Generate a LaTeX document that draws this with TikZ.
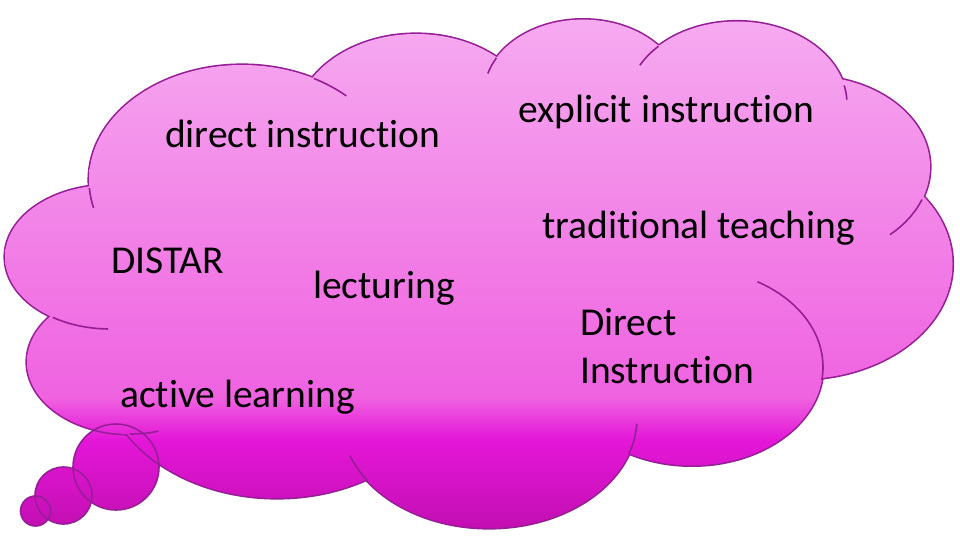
\documentclass[tikz,border=0pt]{standalone}
\usepackage{fontspec}
\setmainfont{Carlito}[Ligatures={NoCommon,NoContextual}]
\definecolor{gT}{RGB}{246,170,240}
\definecolor{gA}{RGB}{239,98,224}
\definecolor{gB}{RGB}{228,22,216}
\definecolor{gC}{RGB}{195,15,178}
\definecolor{edge}{RGB}{150,30,150}
\pgfdeclareverticalshading{cloudgrad}{100bp}{color(0bp)=(gC); color(25.2bp)=(gC); color(33.8bp)=(gB); color(38bp)=(gA); color(75bp)=(gT); color(100bp)=(gT)}
\tikzset{
  lbl/.style={anchor=base west, inner sep=0pt, font=\fontsize{39.5}{48}\selectfont, text=black},
  lobeline/.style={draw=edge, line width=3.2pt},
  thinline/.style={draw=edge, line width=1.6pt},
  gradfill/.style={shading=cloudgrad},
}
\begin{document}
\begin{tikzpicture}[x=1pt,y=-1pt]
\useasboundingbox (0,0) rectangle (960,540);
\fill[white] (0,0) rectangle (960,540);
% bubble fills
\foreach \cx/\cy/\r in {116/467/43, 63.5/495.5/28.5, 35.5/511/15}{
  \begin{scope}
    \clip (\cx,\cy) circle [radius=\r];
    \shade[gradfill] (0,20) rectangle (960,530);
  \end{scope}
}
% cloud lobe outlines (outer half stays visible)
\foreach \cx/\cy/\rx/\ry in {242/180/153/115, 416/125/121/91, 583/94/99/74.4, 737/104/110/82.5, 809/167/121/91, 799/264/153.5/115.3, 692/367/131/98.4, 489/418/148/110, 277/366/175/132, 130/362/103/72, 110/257/105/72}{
  \draw[lobeline] (\cx,\cy) ellipse [x radius=\rx, y radius=\ry];
}
% cloud fill
\foreach \cx/\cy/\rx/\ry in {242/180/153/115, 416/125/121/91, 583/94/99/74.4, 737/104/110/82.5, 809/167/121/91, 799/264/153.5/115.3, 692/367/131/98.4, 489/418/148/110, 277/366/175/132, 130/362/103/72, 110/257/105/72}{
  \begin{scope}
    \clip (\cx,\cy) ellipse [x radius=\rx, y radius=\ry];
    \shade[gradfill] (0,20) rectangle (960,530);
  \end{scope}
}
\begin{scope}
  \clip (90,189) -- (313,78) -- (497,58) -- (657,45) -- (842,80) -- (919,199) -- (822,380) -- (630,452) -- (367,480) -- (127,434) -- (53,316) -- cycle;
  \shade[gradfill] (0,20) rectangle (960,530);
\end{scope}
% bubble outlines
\foreach \cx/\cy/\r in {116/467/43, 63.5/495.5/28.5, 35.5/511/15}{
  \draw[thinline] (\cx,\cy) circle [radius=\r];
}
% inner hooks of the cloud
\draw[thinline] (242,180) ++(176:153 and 115) arc[start angle=176, end angle=166, x radius=153, y radius=115];
\draw[thinline] (242,180) ++(-62:153 and 115) arc[start angle=-62, end angle=-47, x radius=153, y radius=115];
\draw[thinline] (583,94) ++(209:99 and 74.4) arc[start angle=209, end angle=196, x radius=99, y radius=74.4];
\draw[thinline] (737,104) ++(224.5:110 and 82.5) arc[start angle=224.5, end angle=208, x radius=110, y radius=82.5];
\draw[thinline] (737,104) ++(-13:110 and 82.5) arc[start angle=-13, end angle=-3, x radius=110, y radius=82.5];
\draw[thinline] (809,167) ++(21:121 and 91) arc[start angle=21, end angle=48, x radius=121, y radius=91];
\draw[thinline] (692,367) ++(7.6:131 and 98.4) arc[start angle=7.6, end angle=-60, x radius=131, y radius=98.4];
\draw[thinline] (489,418) ++(19:148 and 110) arc[start angle=19, end angle=3, x radius=148, y radius=110];
\draw[thinline] (489,418) ++(145:148 and 110) arc[start angle=145, end angle=160, x radius=148, y radius=110];
\draw[thinline] (130,362) ++(90:103 and 72) arc[start angle=90, end angle=74, x radius=103, y radius=72];
\draw[thinline] (110,257) ++(123:105 and 72) arc[start angle=123, end angle=91, x radius=105, y radius=72];
% texts
\node[lbl] (t1) at (165,148) {direct instruction};
\node[lbl] (t2) at (111,273) {DISTAR};
\node[lbl] (t3) at (313,298) {lecturing};
\node[lbl] (t4) at (120,407) {active learning};
\node[lbl] (t5) at (518,123) {explicit instruction};
\node[lbl] (t6) at (542,238) {traditional teaching};
\node[lbl] (t7) at (580,335) {Direct};
\node[lbl] (t8) at (580,383) {Instruction};
\end{tikzpicture}
\end{document}
